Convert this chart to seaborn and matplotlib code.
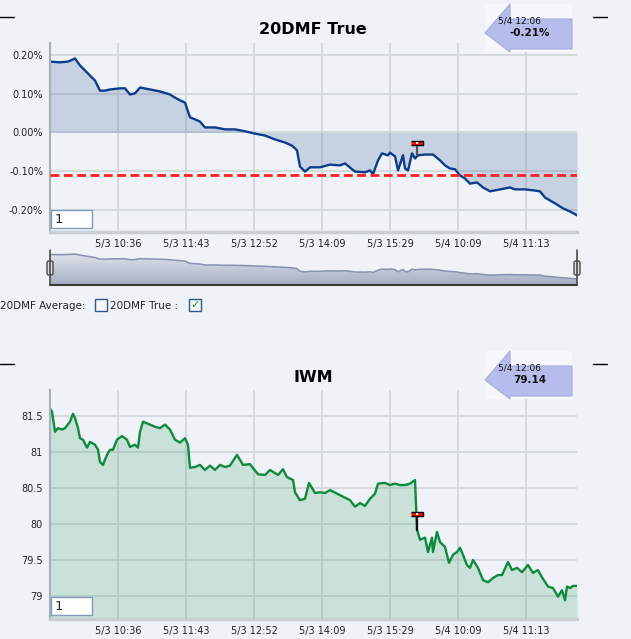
import numpy as np
import matplotlib.pyplot as plt
import seaborn as sns
from matplotlib.patches import Polygon, Rectangle, FancyBboxPatch
from matplotlib.lines import Line2D
from matplotlib.colors import LinearSegmentedColormap

# time axis (in units of one tick step) and tick labels
tick_pos = [1, 2, 3, 4, 5, 6, 7]
tick_labels = ["5/3 10:36", "5/3 11:43", "5/3 12:52", "5/3 14:09",
               "5/3 15:29", "5/4 10:09", "5/4 11:13"]

# 20DMF True (%)
dmf_x = [0, 0.147, 0.265, 0.368, 0.441, 0.515, 0.588, 0.662, 0.735, 0.809, 0.882,
         1.029, 1.103, 1.176, 1.25, 1.324, 1.471, 1.618, 1.765, 1.838, 1.912, 1.985,
         2.059, 2.132, 2.206, 2.279, 2.426, 2.574, 2.721, 2.868, 3.015, 3.162, 3.309,
         3.456, 3.559, 3.632, 3.676, 3.75, 3.824, 3.971, 4.118, 4.265, 4.338, 4.485,
         4.632, 4.706, 4.75, 4.824, 4.882, 4.971, 5.0, 5.074, 5.118, 5.191, 5.221,
         5.265, 5.324, 5.368, 5.412, 5.515, 5.632, 5.735, 5.809, 5.882, 5.956, 6.029,
         6.103, 6.176, 6.279, 6.368, 6.471, 6.618, 6.765, 6.838, 6.985, 7.132, 7.206,
         7.279, 7.426, 7.544, 7.647, 7.75]
dmf_y = [0.183, 0.181, 0.183, 0.191, 0.173, 0.160, 0.147, 0.134, 0.108, 0.108, 0.111,
         0.114, 0.114, 0.098, 0.101, 0.116, 0.111, 0.106, 0.098, 0.090, 0.083, 0.077,
         0.039, 0.034, 0.028, 0.013, 0.013, 0.008, 0.008, 0.003, -0.003, -0.008, -0.018,
         -0.026, -0.034, -0.046, -0.088, -0.101, -0.090, -0.090, -0.083, -0.085, -0.080, -0.101,
         -0.103, -0.098, -0.108, -0.072, -0.054, -0.059, -0.052, -0.062, -0.098, -0.059, -0.093,
         -0.098, -0.054, -0.067, -0.059, -0.057, -0.057, -0.072, -0.085, -0.093, -0.095, -0.111,
         -0.119, -0.132, -0.129, -0.142, -0.152, -0.147, -0.142, -0.147, -0.147, -0.150, -0.152,
         -0.168, -0.183, -0.196, -0.204, -0.214]
dmf_avg = -0.11
dmf_mark = (5.397, -0.028, -0.057)

# IWM price
iwm_x = [0, 0.029, 0.074, 0.118, 0.176, 0.221, 0.294, 0.338, 0.368, 0.412, 0.441,
         0.485, 0.544, 0.588, 0.662, 0.706, 0.735, 0.779, 0.838, 0.882, 0.926, 0.985,
         1.059, 1.132, 1.176, 1.25, 1.294, 1.324, 1.368, 1.471, 1.544, 1.618, 1.691,
         1.765, 1.838, 1.912, 1.985, 2.029, 2.059, 2.132, 2.206, 2.279, 2.353, 2.426,
         2.5, 2.574, 2.647, 2.75, 2.838, 2.941, 3.059, 3.162, 3.235, 3.353, 3.426,
         3.485, 3.574, 3.603, 3.676, 3.75, 3.809, 3.897, 3.971, 4.044, 4.118, 4.265,
         4.412, 4.485, 4.559, 4.632, 4.706, 4.779, 4.824, 4.926, 5.0, 5.074, 5.147,
         5.221, 5.294, 5.368, 5.397, 5.441, 5.515, 5.559, 5.618, 5.632, 5.691, 5.735,
         5.809, 5.868, 5.926, 5.985, 6.029, 6.074, 6.132, 6.176, 6.221, 6.294, 6.368,
         6.441, 6.515, 6.588, 6.647, 6.735, 6.794, 6.868, 6.941, 7.029, 7.103, 7.176,
         7.235, 7.324, 7.397, 7.471, 7.529, 7.574, 7.603, 7.647, 7.691, 7.75]
iwm_y = [81.60, 81.56, 81.28, 81.33, 81.31, 81.33, 81.42, 81.53, 81.47, 81.33, 81.19,
         81.17, 81.06, 81.14, 81.10, 81.03, 80.86, 80.82, 80.96, 81.03, 81.03, 81.17,
         81.22, 81.17, 81.07, 81.10, 81.06, 81.28, 81.42, 81.38, 81.35, 81.33, 81.38,
         81.31, 81.17, 81.13, 81.19, 81.10, 80.78, 80.79, 80.82, 80.75, 80.81, 80.75,
         80.82, 80.79, 80.81, 80.96, 80.82, 80.83, 80.69, 80.68, 80.75, 80.68, 80.76,
         80.65, 80.61, 80.44, 80.33, 80.35, 80.57, 80.43, 80.44, 80.43, 80.47, 80.40,
         80.33, 80.24, 80.29, 80.25, 80.35, 80.42, 80.56, 80.57, 80.54, 80.56, 80.54,
         80.54, 80.56, 80.61, 79.92, 79.78, 79.81, 79.61, 79.81, 79.61, 79.89, 79.75,
         79.68, 79.46, 79.57, 79.61, 79.67, 79.57, 79.43, 79.39, 79.50, 79.39, 79.22,
         79.19, 79.25, 79.29, 79.29, 79.47, 79.36, 79.39, 79.33, 79.43, 79.32, 79.36,
         79.26, 79.13, 79.11, 78.99, 79.08, 78.94, 79.13, 79.11, 79.14, 79.14]
iwm_mark = (5.397, 80.14, 79.92)

W, H = 631, 639
bg = '#eff3f7'


def fx(px):
    return px / W


def fy(py):
    return 1 - py / H


sns.set_style('white')
plt.rcParams['font.family'] = ['DejaVu Sans']

fig = plt.figure(figsize=(W / 100, H / 100), dpi=100, facecolor=bg)


def style_axes(ax, ylim, yticks, ylabels):
    ax.set_facecolor(bg)
    ax.set_xlim(0, 7.75)
    ax.set_ylim(*ylim)
    ax.set_xticks(tick_pos)
    ax.set_xticklabels(tick_labels)
    ax.set_yticks(yticks)
    ax.set_yticklabels(ylabels)
    ax.tick_params(length=0, labelsize=7, pad=5, colors='#222222')
    ax.grid(True, color='#d3d8dd', lw=1.3)
    ax.set_axisbelow(True)
    for s in ['top', 'right']:
        ax.spines[s].set_visible(False)
    ax.spines['left'].set_color('#a6aeb6')
    ax.spines['left'].set_linewidth(1.5)
    ax.spines['bottom'].set_color('#c9ced3')
    ax.spines['bottom'].set_linewidth(2.5)
    ax.set_xlabel('')
    ax.set_ylabel('')


def marker(ax, xm, ym, yline, stem):
    ax.plot([xm, xm], [ym, yline], color=stem, lw=1.6, zorder=5)
    ax.plot([xm], [ym], marker=[(-1, -0.4), (1, -0.4), (1, 0.4), (-1, 0.4)],
            ms=8, mfc='#ff1010', mec='black', mew=1, zorder=6)
    ax.plot([xm], [ym], marker='s', ms=1.5, color='white', mew=0, zorder=7)


def arrow_box(y0, line1, line2):
    fig.add_artist(Rectangle((fx(485), fy(y0 + 48)), 87 / W, 48 / H,
                             transform=fig.transFigure, fc='#f6f7fb', ec='none'))
    pts = [(485, y0 + 29), (510, y0), (510, y0 + 15), (572, y0 + 15),
           (572, y0 + 45), (510, y0 + 45), (510, y0 + 48)]
    fig.add_artist(Polygon([(fx(a), fy(b)) for a, b in pts], closed=True,
                           transform=fig.transFigure, fc='#b6bceb', ec='#a6acdf', lw=0.8))
    fig.text(fx(498), fy(y0 + 17), line1, fontsize=6.5, va='center', ha='left', color='#111111')
    fig.text(fx(530), fy(y0 + 29), line2, fontsize=7.5, va='center', ha='center',
             fontweight='bold', color='#111111')


def dash(y):
    fig.add_artist(Line2D([fx(0), fx(14)], [fy(y), fy(y)], transform=fig.transFigure,
                          color='black', lw=1))
    fig.add_artist(Line2D([fx(593), fx(607)], [fy(y), fy(y)], transform=fig.transFigure,
                          color='black', lw=1))


def input_box(y):
    fig.add_artist(Rectangle((fx(51), fy(y + 18)), 41 / W, 18 / H, transform=fig.transFigure,
                             fc='white', ec='#7f9db9', lw=1, zorder=10))
    fig.text(fx(55), fy(y + 9), '1', fontsize=9.5, va='center', ha='left', zorder=11)


# ---- top chart: 20DMF True
ax1 = fig.add_axes([fx(50), fy(232), 527 / W, 189 / H])
ax1.fill_between(dmf_x, dmf_y, 0, color='#5a78a8', alpha=0.27, lw=0)
sns.lineplot(x=dmf_x, y=dmf_y, ax=ax1, color='#0c3c8c', linewidth=1.7,
             estimator=None, sort=False)
ax1.axhline(dmf_avg, color='#ff2020', lw=2, ls=(0, (3.2, 1.6)), zorder=4)
marker(ax1, *dmf_mark, '#555555')
style_axes(ax1, (-0.257, 0.231), [0.2, 0.1, 0.0, -0.1, -0.2],
           ['0.20%', '0.10%', '0.00%', '-0.10%', '-0.20%'])
fig.text(fx(313), fy(30), '20DMF True', fontsize=11.5, fontweight='bold',
         ha='center', va='center', color='black')
arrow_box(4, '5/4 12:06', '-0.21%')
dash(17)
input_box(210)

# ---- navigator
nav = fig.add_axes([fx(50), fy(285), 527 / W, 34 / H])
nav.set_xlim(0, 7.75)
nav.set_ylim(-0.313, 0.24)
nav.axis('off')
poly = nav.fill_between(dmf_x, dmf_y, -0.313, color='none', lw=0)
grad = np.linspace(0, 1, 100).reshape(-1, 1)
cmap = LinearSegmentedColormap.from_list('nav', ['#a6aec4', '#e3e6ee'])
im = nav.imshow(grad, extent=[0, 7.75, -0.313, 0.24], aspect='auto', cmap=cmap,
                origin='lower')
im.set_clip_path(poly.get_paths()[0], nav.transData)
sns.lineplot(x=dmf_x, y=dmf_y, ax=nav, color='#8792b0', linewidth=1.1,
             estimator=None, sort=False)
fig.add_artist(Line2D([fx(50), fx(577)], [fy(285), fy(285)], transform=fig.transFigure,
                      color='#3a3a3a', lw=1.5))
for hx in (50, 577):
    fig.add_artist(Line2D([fx(hx), fx(hx)], [fy(250), fy(285)], transform=fig.transFigure,
                          color='#4a4a4a', lw=1.2))
    fig.add_artist(FancyBboxPatch((fx(hx - 3), fy(275)), 6 / W, 14 / H,
                                  boxstyle='round,pad=0,rounding_size=0.003',
                                  transform=fig.transFigure,
                                  fc='#dcdcdc', ec='#4a4a4a', lw=1))

# ---- legend row
fig.text(fx(0), fy(306), '20DMF Average:', fontsize=7.5, va='center', ha='left', color='#222222')
fig.add_artist(Rectangle((fx(95), fy(311)), 12 / W, 12 / H, transform=fig.transFigure,
                         fc='#f4f6f8', ec='#2c5a8a', lw=1))
fig.text(fx(110), fy(306), '20DMF True :', fontsize=7.5, va='center', ha='left', color='#222222')
fig.add_artist(Rectangle((fx(189), fy(311)), 12 / W, 12 / H, transform=fig.transFigure,
                         fc='#f4f6f8', ec='#2c5a8a', lw=1))
fig.text(fx(195), fy(305), '\u2713', fontsize=8, va='center', ha='center',
         color='#1a9a2a', fontweight='bold')

# ---- bottom chart: IWM
ax2 = fig.add_axes([fx(50), fy(619), 527 / W, 229 / H])
ax2.fill_between(iwm_x, iwm_y, 78.68, color='#3a9a6a', alpha=0.2, lw=0)
sns.lineplot(x=iwm_x, y=iwm_y, ax=ax2, color='#0e8a3c', linewidth=1.7,
             estimator=None, sort=False)
marker(ax2, *iwm_mark, '#111111')
style_axes(ax2, (78.68, 81.86), [81.5, 81, 80.5, 80, 79.5, 79],
           ['81.5', '81', '80.5', '80', '79.5', '79'])
fig.text(fx(313), fy(377), 'IWM', fontsize=11.5, fontweight='bold',
         ha='center', va='center', color='black')
arrow_box(351, '5/4 12:06', '79.14')
dash(364)
input_box(597)

fig.savefig('out.png', dpi=100, facecolor=bg)
